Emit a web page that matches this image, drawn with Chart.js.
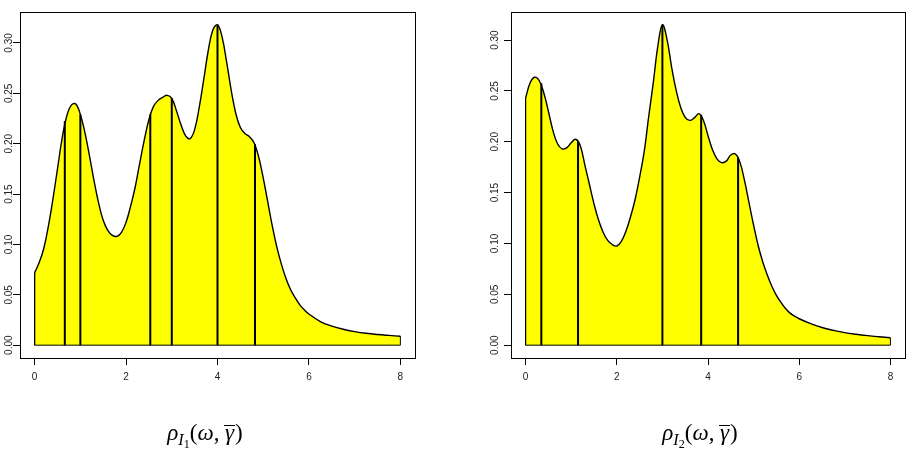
<!DOCTYPE html>
<html>
<head>
<meta charset="utf-8">
<script src="https://cdn.jsdelivr.net/npm/chart.js@4/dist/chart.umd.min.js"></script>
<style>
  body { margin: 0; background: #fff; }
  #wrap { position: relative; width: 906px; height: 454px; overflow: hidden; }
  .panel { position: absolute; top: 0; width: 453px; height: 454px; }
  .lab {
    position: absolute; top: 418px; width: 200px; margin-left: -100px;
    text-align: center; font-family: "Liberation Serif", "DejaVu Serif", serif;
    font-size: 23px; line-height: 30px; color: #000; white-space: nowrap;
  }
  .lab sub { font-size: 0.7em; vertical-align: -0.3em; line-height: 0; }
  .lab sub sub { font-size: 0.75em; vertical-align: -0.25em; font-style: normal; }
  .bar { display: inline-block; border-top: 1.3px solid #000; line-height: 0.6em; padding: 0 1px; }
</style>
</head>
<body>
<div id="wrap">
  <div class="panel" style="left:0"><canvas id="c1" width="453" height="454"></canvas></div>
  <div class="panel" style="left:453px"><canvas id="c2" width="453" height="454"></canvas></div>
  <div class="lab" style="left:205px"><i>ρ</i><sub><i>I</i><sub>1</sub></sub>(<i>ω</i>,&thinsp;<i class="bar">γ</i>)</div>
  <div class="lab" style="left:700px"><i>ρ</i><sub><i>I</i><sub>2</sub></sub>(<i>ω</i>,&thinsp;<i class="bar">γ</i>)</div>
</div>
<script>
// omega grid (same for both panels)
var omega = [0,0.1,0.2,0.3,0.4,0.5,0.6,0.7,0.8,0.9,1.0,1.1,1.2,1.3,1.4,1.5,1.6,1.7,1.8,1.9,
  2.0,2.1,2.2,2.3,2.4,2.5,2.6,2.7,2.8,2.9,3.0,3.1,3.2,3.3,3.4,3.5,3.6,3.7,3.8,3.9,
  4.0,4.1,4.2,4.3,4.4,4.5,4.6,4.7,4.8,4.9,5.0,5.1,5.2,5.3,5.4,5.5,5.6,5.7,5.8,5.9,
  6.0,6.25,6.5,6.75,7.0,7.25,7.5,7.75,8.0];

// rho_I1 values
var rho1 = [0.072,0.082,0.096,0.118,0.145,0.175,0.205,0.227,0.238,0.2395,
  0.229,0.211,0.188,0.163,0.141,0.124,0.114,0.109,0.108,0.112,
  0.122,0.138,0.157,0.181,0.204,0.224,0.237,0.243,0.246,0.248,
  0.245,0.233,0.219,0.208,0.205,0.214,0.236,0.264,0.293,0.313,
  0.318,0.306,0.281,0.253,0.230,0.216,0.210,0.207,0.201,0.187,
  0.166,0.142,0.118,0.097,0.080,0.066,0.055,0.047,0.040,0.035,
  0.031,0.0235,0.019,0.0158,0.0135,0.0118,0.0106,0.0097,0.0089];

// rho_I2 values
var rho2 = [0.243,0.258,0.2635,0.260,0.248,0.230,0.211,0.198,0.193,0.194,
  0.199,0.2025,0.196,0.177,0.158,0.139,0.123,0.111,0.103,0.099,
  0.0975,0.102,0.112,0.126,0.143,0.165,0.190,0.225,0.258,0.294,
  0.315,0.301,0.274,0.251,0.234,0.224,0.221,0.2235,0.2277,0.221,
  0.206,0.192,0.183,0.1795,0.181,0.187,0.188,0.180,0.162,0.140,
  0.118,0.098,0.082,0.069,0.058,0.049,0.042,0.036,0.0315,0.0285,
  0.026,0.0212,0.0174,0.0146,0.0123,0.0107,0.0094,0.0083,0.0073];

// vertical lines: positions and heights
var lines1X = [0.66, 1.0, 2.53, 3.0, 4.0, 4.82];
var lines1Y = [0.2225, 0.229, 0.229, 0.245, 0.318, 0.1994];
var lines2X = [0.345, 1.15, 3.0, 3.85, 4.66];
var lines2Y = [0.2575, 0.2008, 0.315, 0.2265, 0.1845];

var xTicks = [0, 2, 4, 6, 8];
var yTicks = [0, 0.05, 0.10, 0.15, 0.20, 0.25, 0.30];

var boxPlugin = {
  id: 'box',
  afterDraw: function(chart) {
    var a = chart.chartArea, ctx = chart.ctx;
    ctx.save();
    ctx.strokeStyle = '#000';
    ctx.lineWidth = 1;
    ctx.strokeRect(Math.round(a.left) + 0.5, Math.round(a.top) + 0.5,
      Math.round(a.right - a.left), Math.round(a.bottom - a.top));
    ctx.restore();
  }
};

function makeChart(id, vals, lx, ly, yMax, pad, yWidth, labPad) {
  var curve = omega.map(function(x, i) { return {x: x, y: vals[i]}; });
  var last = omega.length - 1;
  var edges = [
    {x: omega[0], y: vals[0]}, {x: omega[0], y: 0},
    {x: omega[last], y: 0}, {x: omega[last], y: vals[last]}
  ];
  var segs = [];
  for (var i = 0; i < lx.length; i++) {
    segs.push({x: lx[i], y: 0}, {x: lx[i], y: ly[i]}, {x: lx[i], y: null});
  }
  var xr = 8 * 0.04, yr = yMax * 0.04;

  return new Chart(document.getElementById(id), {
    type: 'line',
    data: {
      datasets: [
        { data: segs, borderColor: '#000', borderWidth: 2, pointRadius: 0,
          spanGaps: false, tension: 0, fill: false, order: 0 },
        { data: edges, borderColor: '#000', borderWidth: 1, pointRadius: 0,
          tension: 0, fill: false, order: 1 },
        { data: curve, borderColor: '#000', borderWidth: 1.4, pointRadius: 0,
          backgroundColor: '#ffff00', fill: 'origin', tension: 0.4, order: 2 }
      ]
    },
    options: {
      responsive: false,
      animation: false,
      layout: { padding: pad },
      plugins: { legend: { display: false }, tooltip: { enabled: false } },
      scales: {
        x: {
          type: 'linear', min: -xr, max: 8 + xr,
          afterBuildTicks: function(s) { s.ticks = xTicks.map(function(v) { return {value: v}; }); },
          afterFit: function(s) { s.height = 30; },
          grid: { drawOnChartArea: false, drawTicks: true, tickLength: 7, color: '#000' },
          border: { display: true, color: '#000' },
          ticks: { color: '#222', padding: 6, maxRotation: 0, minRotation: 0,
            font: { family: 'Liberation Sans, Arial, sans-serif', size: 10 },
            callback: function(v) { return String(v); } }
        },
        y: {
          type: 'linear', min: -yr, max: yMax + yr,
          afterBuildTicks: function(s) { s.ticks = yTicks.map(function(v) { return {value: v}; }); },
          afterFit: function(s) { s.width = yWidth; },
          grid: { drawOnChartArea: false, drawTicks: true, tickLength: 7, color: '#000' },
          border: { display: true, color: '#000' },
          ticks: { color: '#222', padding: labPad, minRotation: 90, maxRotation: 90,
            crossAlign: 'center',
            font: { family: 'Liberation Sans, Arial, sans-serif', size: 10 },
            callback: function(v) { return v.toFixed(2); } }
        }
      }
    },
    plugins: [boxPlugin]
  });
}

makeChart('c1', rho1, lines1X, lines1Y, 0.318, {top: 12, right: 38, bottom: 66, left: 0}, 20, -6);
makeChart('c2', rho2, lines2X, lines2Y, 0.315, {top: 12, right: 1, bottom: 66, left: 0}, 58, -1);
</script>
</body>
</html>
